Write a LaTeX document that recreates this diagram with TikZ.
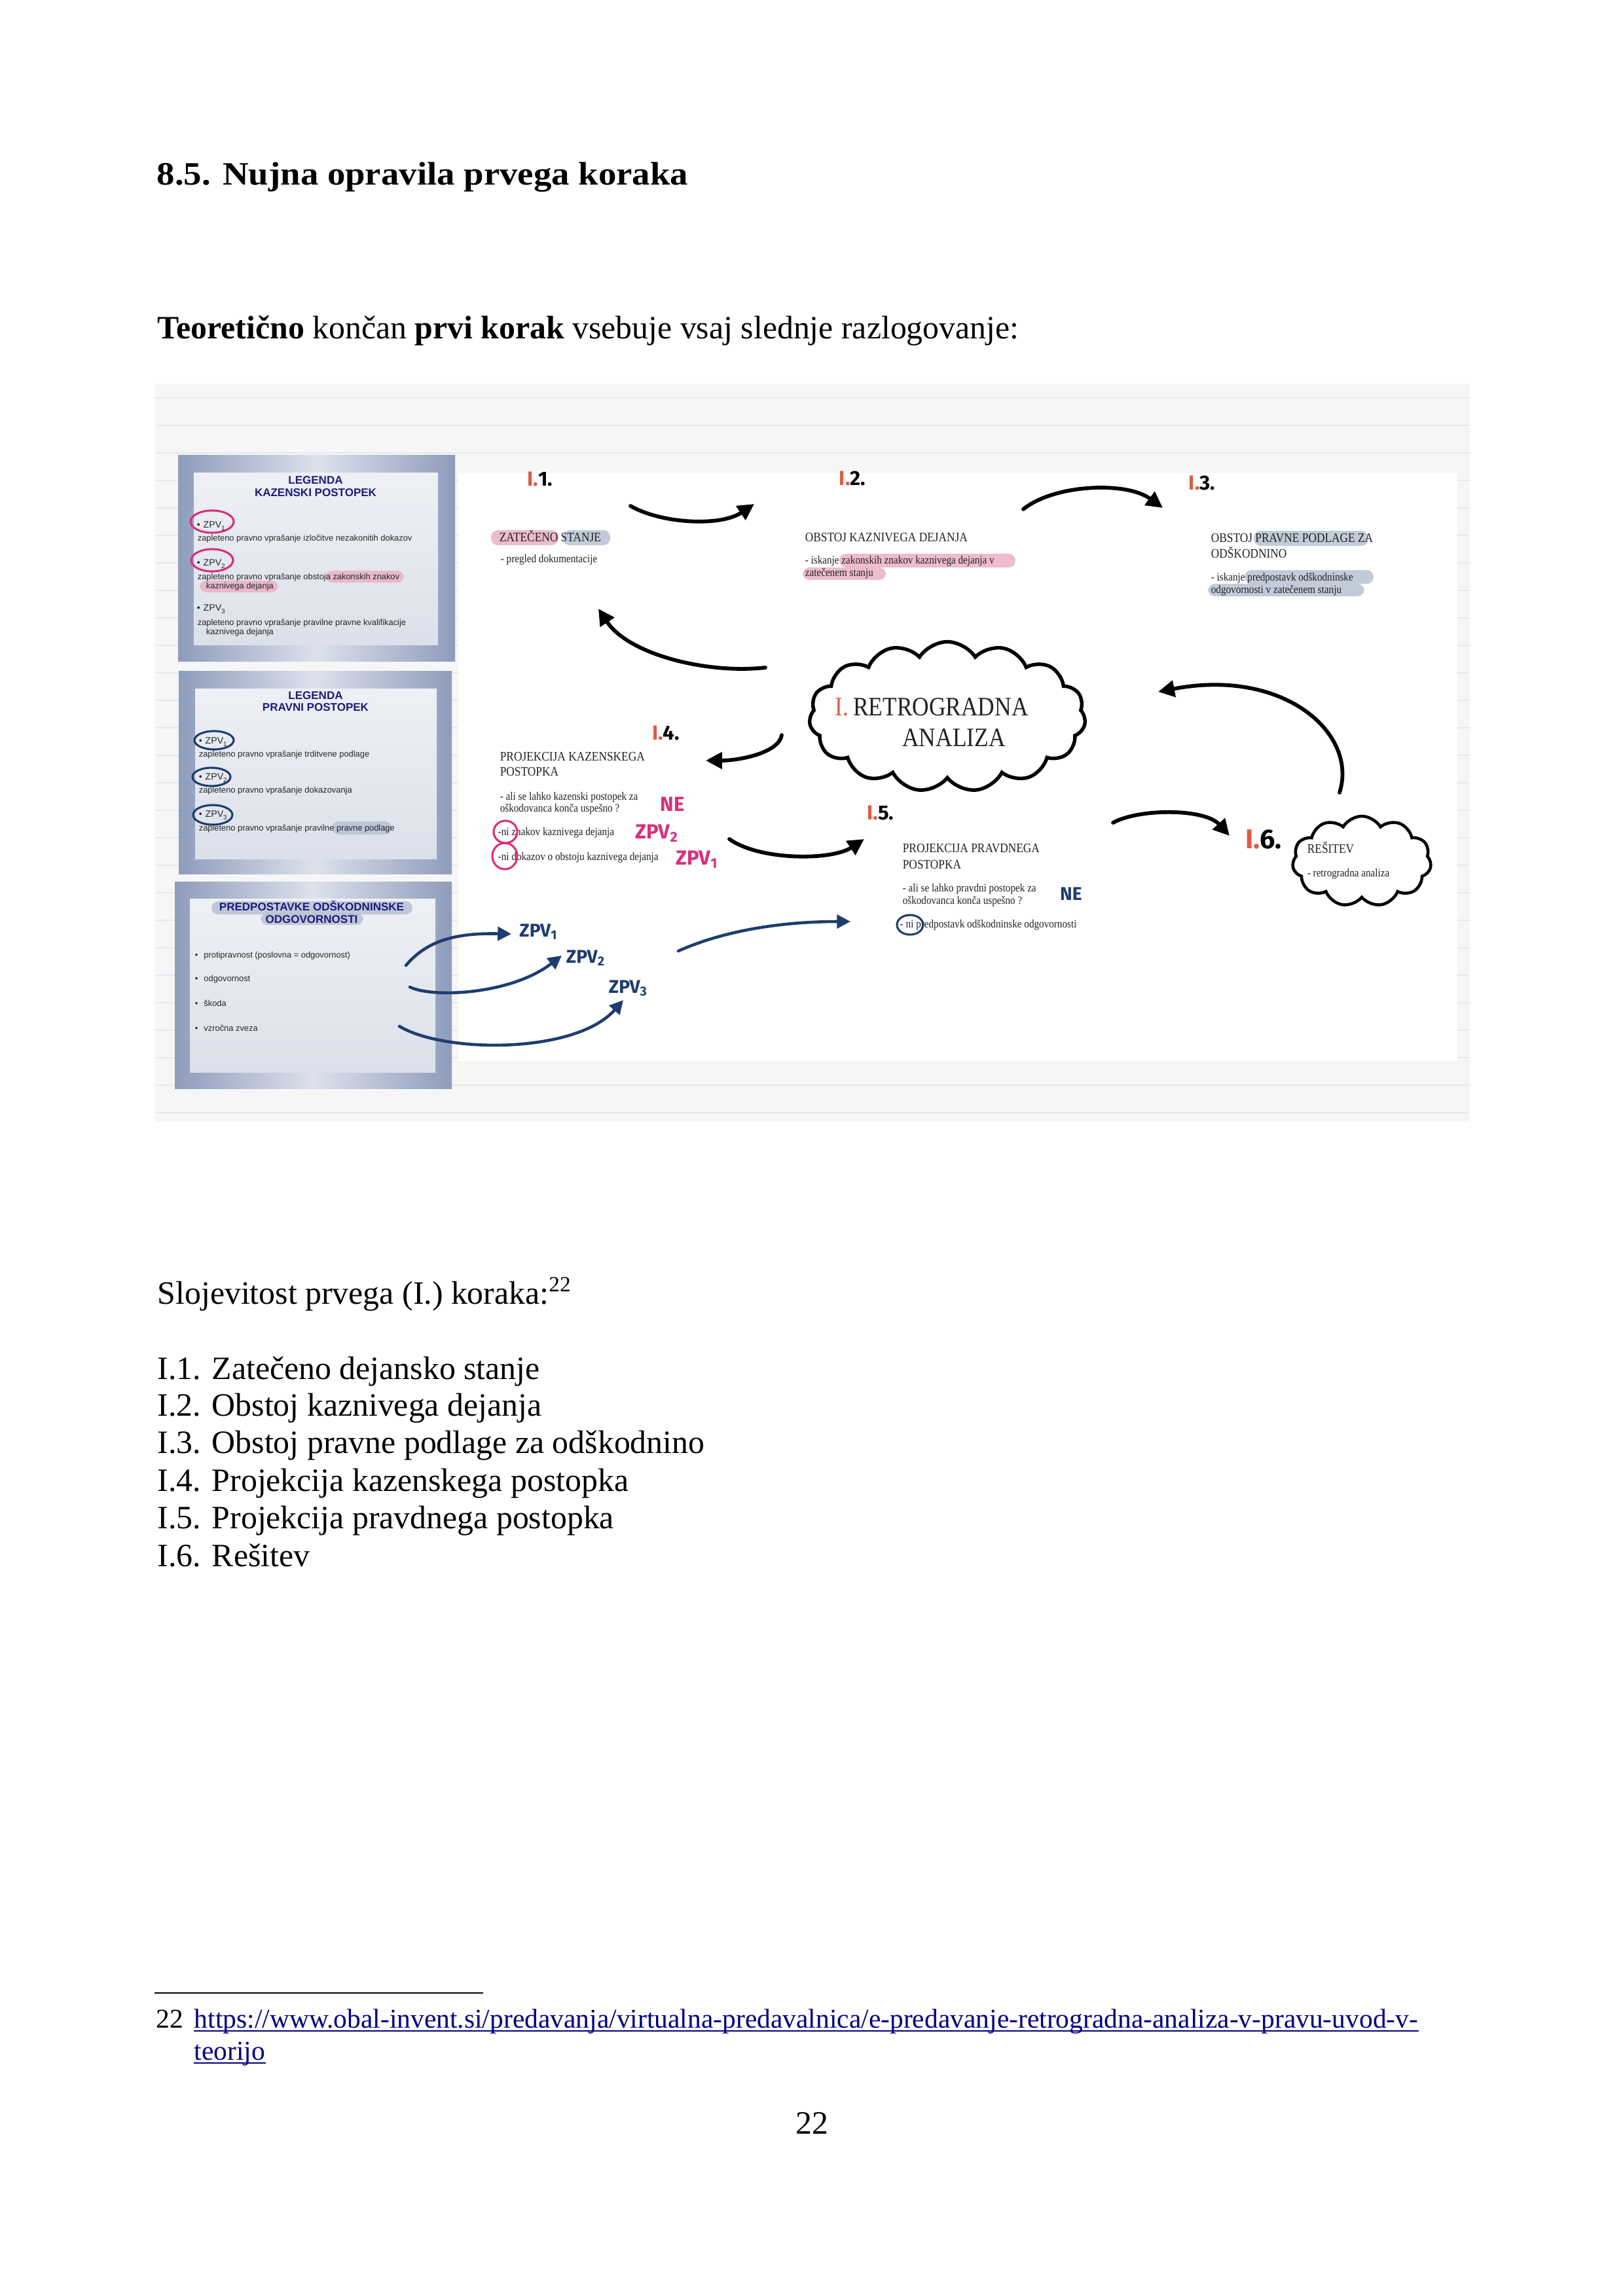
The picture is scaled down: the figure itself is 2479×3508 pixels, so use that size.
\documentclass[tikz,border=0pt]{standalone}
\usepackage{fontspec}
\setmainfont{Liberation Serif}
\newfontfamily\headfont[FakeStretch=1.1]{Liberation Serif}
\newfontfamily\wbf[FakeStretch=0.87]{Liberation Serif}
\newfontfamily\slf{Liberation Sans}
\newfontfamily\hand{Fira Sans}
\usetikzlibrary{arrows.meta,shapes.symbols,calc}
\definecolor{redI}{HTML}{E05A44}
\definecolor{pinkm}{HTML}{D8307A}
\definecolor{hlpink}{HTML}{EAB1C6}
\definecolor{hlblue}{HTML}{B7C2D3}
\definecolor{navy}{HTML}{1E3D6E}
\definecolor{sltitle}{HTML}{1B1B7D}
\definecolor{wbtext}{HTML}{222222}
\definecolor{bgpaper}{HTML}{F6F6F6}
\definecolor{ruled}{HTML}{E4E9EF}
\definecolor{slideedge}{HTML}{8E9CBC}
\definecolor{slidemid}{HTML}{DDE1EB}
\definecolor{slidein1}{HTML}{EEF0F5}
\definecolor{slidein2}{HTML}{DCE0EA}
\definecolor{linkblue}{HTML}{000080}
\begin{document}
\begin{tikzpicture}[x=0.084667mm, y=-0.084667mm,
  pg/.style={anchor=base west, inner sep=0pt, font=\fontsize{12}{14}\selectfont},
  wbh/.style={anchor=base west, inner sep=0pt, font=\wbf\fontsize{4.8}{5.5}\selectfont, text=wbtext},
  wbs/.style={anchor=base west, inner sep=0pt, font=\wbf\fontsize{4.2}{5}\selectfont, text=wbtext},
  slt/.style={anchor=base, inner sep=0pt, font=\slf\bfseries\fontsize{4.1}{5}\selectfont, text=sltitle},
  slx/.style={anchor=base west, inner sep=0pt, font=\slf\fontsize{3.1}{4}\selectfont, text=black!85},
  slz/.style={anchor=base west, inner sep=0pt, font=\slf\fontsize{3.4}{4}\selectfont, text=black!85},
  hlab/.style={anchor=center, inner sep=0pt, font=\hand\bfseries\fontsize{7.5}{8}\selectfont},
  hwp/.style={anchor=center, inner sep=0pt, font=\hand\bfseries\fontsize{7.5}{8}\selectfont, text=pinkm},
  hwn/.style={anchor=center, inner sep=0pt, font=\hand\bfseries\fontsize{6.8}{8}\selectfont, text=navy},
  hlp/.style={fill=hlpink, rounded corners=2.5pt, opacity=0.85},
  hlb/.style={fill=hlblue, rounded corners=2.5pt, opacity=0.85},
  harr/.style={line width=1.4pt, line cap=round, -{Triangle[length=6pt,width=6pt]}},
  narr/.style={line width=1.1pt, line cap=round, draw=navy, -{Triangle[length=5pt,width=5pt]}},
  pcirc/.style={draw=pinkm, line width=0.75pt},
  ncirc/.style={draw=navy, line width=0.75pt},
  slideframe/.style={left color=slideedge, right color=slideedge, middle color=slidemid},
  slidein/.style={top color=slidein1, bottom color=slidein2}
]
\useasboundingbox (0,0) rectangle (2479,3508);
\fill[white] (0,0) rectangle (2479,3508);

% ---------------- page text ----------------
\node[anchor=base west, inner sep=0pt, font=\headfont\bfseries\fontsize{12}{14}\selectfont] (head) at (239,282) {8.5. Nujna opravila prvega koraka};
\node[pg] (intro) at (240,517) {\textbf{Teoretično} končan \textbf{prvi korak} vsebuje vsaj slednje razlogovanje:};

% ---------------- diagram background ----------------
\fill[bgpaper] (237,586) rectangle (2245,1714);
\foreach \yy in {608,650,...,1700} \draw[ruled, line width=0.3pt] (237,\yy) -- (2245,\yy);
\fill[white] (700,723) rectangle (2226,1621);

% ---------------- slide 1 ----------------
\fill[slideframe] (272,695) rectangle (695,1010);
\fill[slidein] (296,722) rectangle (669,985);
\fill[hlp] (497,872) rectangle (617,890);
\fill[hlp] (305,887) rectangle (425,905);
\node[slt] (s1t1) at (482,739) {LEGENDA};
\node[slt] (s1t2) at (482,758) {KAZENSKI POSTOPEK};
\node[slz] (s1z1) at (300,806) {\textbullet\hspace{1.2pt}ZPV\textsubscript{1}};
\node[slx] (s1a) at (301,826) {zapleteno pravno vprašanje izločitve nezakonitih dokazov};
\node[slz] (s1z2) at (300,864) {\textbullet\hspace{1.2pt}ZPV\textsubscript{2}};
\node[slx] (s1b) at (301,885) {zapleteno pravno vprašanje obstoja zakonskih znakov};
\node[slx] (s1c) at (314,899) {kaznivega dejanja};
\node[slz] (s1z3) at (300,933) {\textbullet\hspace{1.2pt}ZPV\textsubscript{3}};
\node[slx] (s1d) at (301,955) {zapleteno pravno vprašanje pravilne pravne kvalifikacije};
\node[slx] (s1e) at (314,969) {kaznivega dejanja};
\draw[pcirc] (324,797) ellipse [x radius=33, y radius=17];
\draw[pcirc] (324,856) ellipse [x radius=32, y radius=17];

% ---------------- slide 2 ----------------
\fill[slideframe] (273,1025) rectangle (690,1335);
\fill[slidein] (298,1052) rectangle (667,1312);
\fill[hlb] (507,1255) rectangle (598,1275);
\node[slt] (s2t1) at (482,1068) {LEGENDA};
\node[slt] (s2t2) at (482,1086) {PRAVNI POSTOPEK};
\node[slz] (s2z1) at (303,1136) {\textbullet\hspace{1.2pt}ZPV\textsubscript{1}};
\node[slx] (s2a) at (303,1156) {zapleteno pravno vprašanje trditvene podlage};
\node[slz] (s2z2) at (303,1191) {\textbullet\hspace{1.2pt}ZPV\textsubscript{2}};
\node[slx] (s2b) at (303,1211) {zapleteno pravno vprašanje dokazovanja};
\node[slz] (s2z3) at (303,1248) {\textbullet\hspace{1.2pt}ZPV\textsubscript{3}};
\node[slx] (s2c) at (303,1269) {zapleteno pravno vprašanje pravilne pravne podlage};
\draw[ncirc] (327,1131) ellipse [x radius=30, y radius=14];
\draw[ncirc] (323,1187) ellipse [x radius=29, y radius=14];
\draw[ncirc] (325,1245) ellipse [x radius=30, y radius=15];

% ---------------- slide 3 ----------------
\fill[slideframe] (267,1347) rectangle (690,1663);
\fill[slidein] (290,1373) rectangle (665,1638);
\fill[hlb] (323,1377) rectangle (630,1397);
\fill[hlb] (398,1395) rectangle (555,1413);
\node[slt] (s3t1) at (476,1391) {PREDPOSTAVKE ODŠKODNINSKE};
\node[slt] (s3t2) at (476,1410) {ODGOVORNOSTI};
\node[slx] (s3a) at (297,1463) {\textbullet\hspace{2.2pt}protipravnost (poslovna = odgovornost)};
\node[slx] (s3b) at (297,1499) {\textbullet\hspace{2.2pt}odgovornost};
\node[slx] (s3c) at (297,1537) {\textbullet\hspace{2.2pt}škoda};
\node[slx] (s3d) at (297,1575) {\textbullet\hspace{2.2pt}vzročna zveza};

% ---------------- whiteboard highlights ----------------
\fill[hlp] (750,810) rectangle (853,833);
\fill[hlb] (860,810) rectangle (932,833);
\fill[hlp] (1282,846) rectangle (1551,867);
\fill[hlp] (1226,867) rectangle (1353,886);
\fill[hlb] (1915,811) rectangle (2090,834);
\fill[hlb] (1901,871) rectangle (2098,892);
\fill[hlb] (1845,892) rectangle (2084,911);

% ---------------- step labels ----------------
\node[hlab] (l11) at (825,732) {\textcolor{redI}{I.}1.};
\node[hlab] (l12) at (1302,731) {\textcolor{redI}{I.}2.};
\node[hlab] (l13) at (1836,738) {\textcolor{redI}{I.}3.};
\node[hlab] (l14) at (1017,1120) {\textcolor{redI}{I.}4.};
\node[hlab] (l15) at (1345,1242) {\textcolor{redI}{I.}5.};
\node[hlab, font=\hand\bfseries\fontsize{10}{11}\selectfont] (l16) at (1930,1282) {\textcolor{redI}{I.}6.};

% ---------------- whiteboard texts ----------------
\node[wbh] (zat) at (762,827) {ZATEČENO STANJE};
\node[wbs] (zats) at (764,859) {- pregled dokumentacije};
\node[wbh] (obk) at (1229,827) {OBSTOJ KAZNIVEGA DEJANJA};
\node[wbs] (obks1) at (1229,861) {- iskanje zakonskih znakov kaznivega dejanja v};
\node[wbs] (obks2) at (1229,880) {zatečenem stanju};
\node[wbh] (obp1) at (1849,828) {OBSTOJ PRAVNE PODLAGE ZA};
\node[wbh] (obp2) at (1849,852) {ODŠKODNINO};
\node[wbs] (obps1) at (1849,887) {- iskanje predpostavk odškodninske};
\node[wbs] (obps2) at (1849,906) {odgovornosti v zatečenem stanju};
\node[wbh] (pk1) at (763,1162) {PROJEKCIJA KAZENSKEGA};
\node[wbh] (pk2) at (763,1185) {POSTOPKA};
\node[wbs] (pks1) at (763,1222) {- ali se lahko kazenski postopek za};
\node[wbs] (pks2) at (763,1240) {oškodovanca konča uspešno ?};
\node[wbs] (pks3) at (760,1276) {-ni znakov kaznivega dejanja};
\node[wbs] (pks4) at (760,1314) {-ni dokazov o obstoju kaznivega dejanja};
\node[wbh] (pp1) at (1378,1302) {PROJEKCIJA PRAVDNEGA};
\node[wbh] (pp2) at (1378,1327) {POSTOPKA};
\node[wbs] (pps1) at (1378,1362) {- ali se lahko pravdni postopek za};
\node[wbs] (pps2) at (1378,1381) {oškodovanca konča uspešno ?};
\node[wbs] (pps3) at (1374,1417) {- ni predpostavk odškodninske odgovornosti};

% handwritten marks
\node[hwp] (ne1) at (1027,1229) {NE};
\node[hwp] (zk2) at (1004,1273) {ZPV\textsubscript{2}};
\node[hwp] (zk1) at (1065,1313) {ZPV\textsubscript{1}};
\draw[pcirc] (772,1271) ellipse [x radius=18, y radius=17];
\draw[pcirc] (771,1308) ellipse [x radius=19, y radius=20];
\node[hwn] (ne2) at (1636,1366) {NE};
\draw[ncirc] (1390,1413) ellipse [x radius=20, y radius=15];
\node[hwn] (zn1) at (823,1424) {ZPV\textsubscript{1}};
\node[hwn] (zn2) at (895,1464) {ZPV\textsubscript{2}};
\node[hwn] (zn3) at (960,1510) {ZPV\textsubscript{3}};

% ---------------- clouds ----------------
\node[cloud, draw, line width=1.3pt, cloud puffs=15, cloud puff arc=115, aspect=1.84,
      minimum width=422*0.084667mm, minimum height=229*0.084667mm] (bigcloud) at (1447,1095) {};
\node[anchor=base west, inner sep=0pt, font=\wbf\fontsize{9.8}{11}\selectfont, text=wbtext] (rg1) at (1275,1093) {\textcolor{redI}{I.}\,RETROGRADNA};
\node[anchor=base, inner sep=0pt, font=\wbf\fontsize{9.8}{11}\selectfont, text=wbtext] (rg2) at (1457,1140) {ANALIZA};
\node[cloud, draw, line width=1.1pt, cloud puffs=11, cloud puff arc=120, aspect=1.55,
      minimum width=212*0.084667mm, minimum height=138*0.084667mm] (smallcloud) at (2080,1316) {};
\node[wbh] (res1) at (1996,1303) {REŠITEV};
\node[wbs] (res2) at (1996,1339) {- retrogradna analiza};

% ---------------- connectors ----------------
\coordinate (a12s) at (963,773);   \coordinate (a12e) at (1152,770);
\coordinate (a23s) at (1563,778);  \coordinate (a23e) at (1776,776);
\coordinate (abs) at (1169,1020);  \coordinate (abe) at (914,930);
\coordinate (a14s) at (1194,1123); \coordinate (a14e) at (1078,1162);
\coordinate (a45s) at (1114,1282); \coordinate (a45e) at (1320,1282);
\coordinate (a56s) at (1700,1257); \coordinate (a56e) at (1878,1277);
\coordinate (a6cs) at (2046,1211); \coordinate (a6ce) at (1769,1057);
\draw[harr] (a12s) .. controls (1010,800) and (1100,805) .. (a12e);
\draw[harr] (a23s) .. controls (1610,740) and (1720,735) .. (a23e);
\draw[harr] (abs) .. controls (1080,1030) and (960,1000) .. (abe);
\draw[harr] (a14s) .. controls (1190,1150) and (1130,1162) .. (a14e);
\draw[harr] (a45s) .. controls (1160,1315) and (1270,1315) .. (a45e);
\draw[harr] (a56s) .. controls (1740,1235) and (1840,1235) .. (a56e);
\draw[harr] (a6cs) .. controls (2075,1120) and (1960,1020) .. (a6ce);

\coordinate (n1s) at (620,1475);  \coordinate (n1e) at (781,1427);
\coordinate (n2s) at (626,1508);  \coordinate (n2e) at (858,1460);
\coordinate (n3s) at (610,1568);  \coordinate (n3e) at (952,1528);
\coordinate (n4s) at (1036,1453); \coordinate (n4e) at (1299,1408);
\draw[narr] (n1s) .. controls (650,1440) and (690,1425) .. (n1e);
\draw[narr] (n2s) .. controls (660,1525) and (780,1520) .. (n2e);
\draw[narr] (n3s) .. controls (680,1610) and (880,1610) .. (n3e);
\draw[narr] (n4s) .. controls (1110,1420) and (1200,1408) .. (n4e);

% ---------------- lower page text ----------------
\node[pg] (sloj) at (240,1992) {Slojevitost prvega (I.) koraka:\textsuperscript{22}};
\node[pg] (i1) at (240,2107) {I.1. Zatečeno dejansko stanje};
\node[pg] (i2) at (240,2163) {I.2. Obstoj kaznivega dejanja};
\node[pg] (i3) at (240,2220) {I.3. Obstoj pravne podlage za odškodnino};
\node[pg] (i4) at (240,2278) {I.4. Projekcija kazenskega postopka};
\node[pg] (i5) at (240,2335) {I.5. Projekcija pravdnega postopka};
\node[pg] (i6) at (240,2393) {I.6. Rešitev};

% ---------------- footnote ----------------
\coordinate (fr1) at (236,3045); \coordinate (fr2) at (738,3045);
\draw[line width=0.7pt] (fr1) -- (fr2);
\node[anchor=base west, inner sep=0pt, font=\fontsize{10}{12}\selectfont] (fnnum) at (238,3098) {22};
\node[anchor=base west, inner sep=0pt, font=\fontsize{10}{12}\selectfont, text=linkblue] (fnl1) at (296,3098) {https://www.obal-invent.si/predavanja/virtualna-predavalnica/e-predavanje-retrogradna-analiza-v-pravu-uvod-v-};
\node[anchor=base west, inner sep=0pt, font=\fontsize{10}{12}\selectfont, text=linkblue] (fnl2) at (296,3147) {teorijo};
\draw[linkblue, line width=0.5pt] ($(fnl1.base west)+(0,5)$) -- ($(fnl1.base east)+(0,5)$);
\draw[linkblue, line width=0.5pt] ($(fnl2.base west)+(0,5)$) -- ($(fnl2.base east)+(0,5)$);
\node[anchor=base, inner sep=0pt, font=\fontsize{12}{14}\selectfont] (pnum) at (1240,3260) {22};
\end{tikzpicture}
\end{document}
